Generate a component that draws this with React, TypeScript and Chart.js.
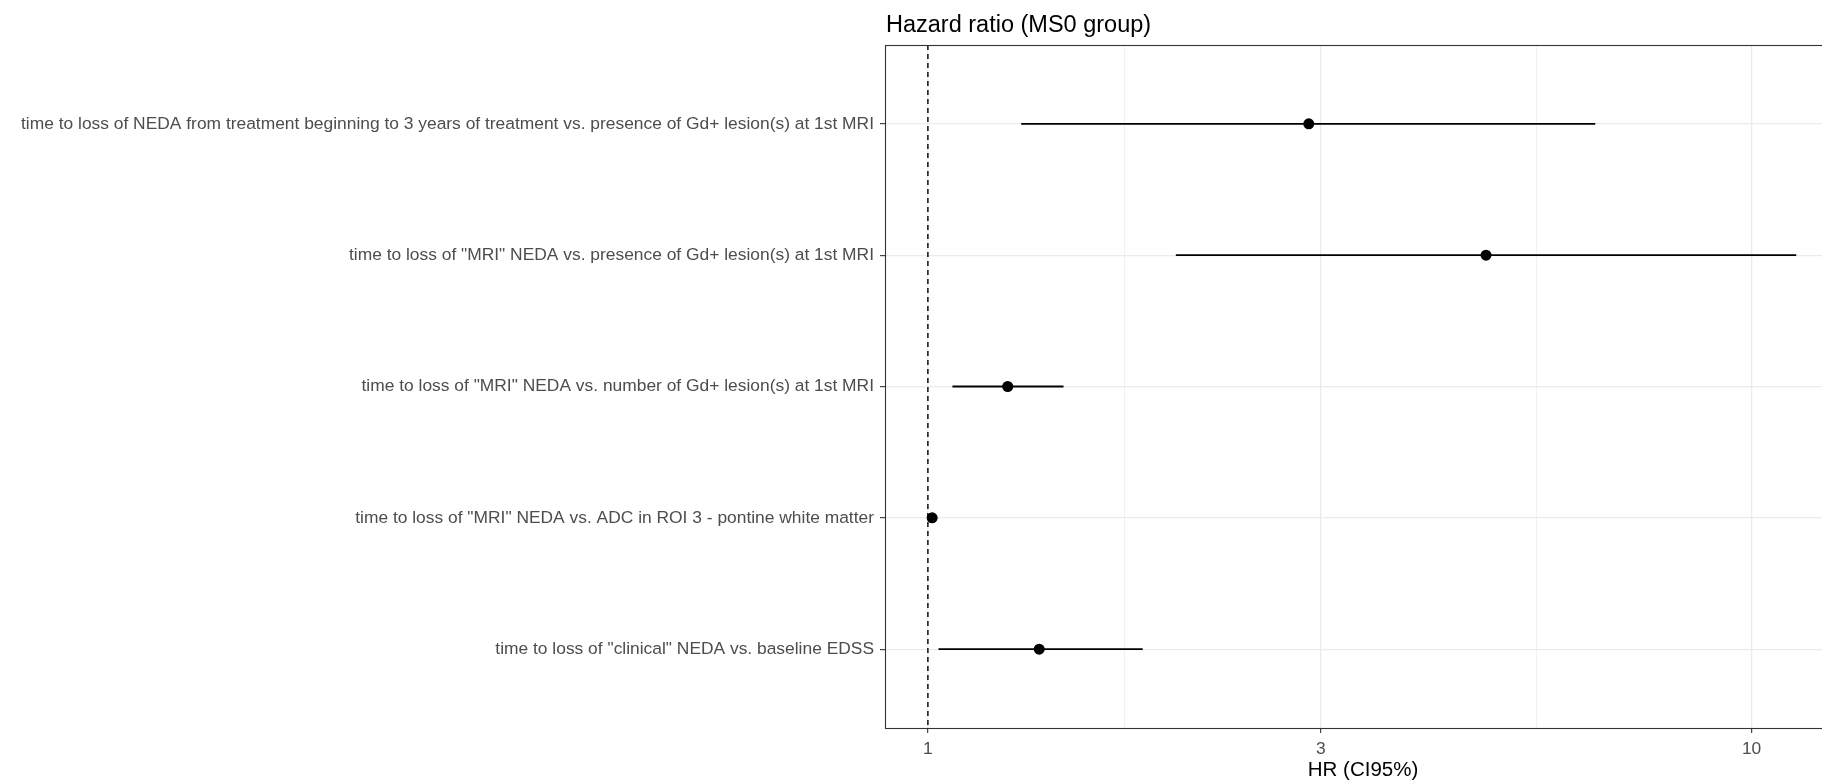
import React, { useEffect, useRef } from 'react';
import { Chart, registerables } from 'chart.js';

Chart.register(...registerables);

// ---- Data (top row first) ----
const categories: string[] = [
  'time to loss of NEDA from treatment beginning to 3 years of treatment vs. presence of Gd+ lesion(s) at 1st MRI',
  'time to loss of "MRI" NEDA vs. presence of Gd+ lesion(s) at 1st MRI',
  'time to loss of "MRI" NEDA vs. number of Gd+ lesion(s) at 1st MRI',
  'time to loss of "MRI" NEDA vs. ADC in ROI 3 - pontine white matter',
  'time to loss of "clinical" NEDA vs. baseline EDSS',
];
const hazardRatio: number[] = [2.9, 4.76, 1.25, 1.012, 1.365];
const ciLower: number[] = [1.298, 2.0, 1.071, 1.002, 1.03];
const ciUpper: number[] = [6.46, 11.33, 1.461, 1.022, 1.823];

const majorTicks: number[] = [1, 3, 10];
const minorTicks: number[] = [1.732, 5.477];
const referenceHR = 1;

const xRange = { min: 0.887, max: 12.84 };
const yRange = { min: 0.4, max: 5.6 };

const chartTitle = 'Hazard ratio (MS0 group)';
const xAxisTitle = 'HR (CI95%)';

const FONT = '"Liberation Sans", Arial, Helvetica, sans-serif';

export default function App() {
  const canvasRef = useRef<HTMLCanvasElement | null>(null);

  useEffect(() => {
    document.body.style.margin = '0';
    document.body.style.overflow = 'hidden';
    const canvas = canvasRef.current;
    if (!canvas) return;

    Chart.defaults.font.family = FONT;

    const panelPlugin = {
      id: 'panelDecor',
      afterDraw(chart: any) {
        const { ctx, chartArea } = chart;
        ctx.save();
        ctx.strokeStyle = '#333333';
        ctx.lineWidth = 1.1;
        ctx.strokeRect(chartArea.left + 0.5, chartArea.top + 0.5, chartArea.right - chartArea.left - 1, chartArea.bottom - chartArea.top);
        ctx.fillStyle = '#000000';
        ctx.font = `23.5px ${FONT}`;
        ctx.textAlign = 'left';
        ctx.textBaseline = 'alphabetic';
        ctx.fillText(chartTitle, chartArea.left + 1, 32);
        ctx.restore();
      },
    };

    const errorBarSets = categories.map((_, i) => ({
      type: 'line' as const,
      data: [
        { x: ciLower[i], y: i + 1 },
        { x: ciUpper[i], y: i + 1 },
      ],
      borderColor: '#000000',
      borderWidth: 1.8,
      pointRadius: 0,
      showLine: true,
      order: 2,
    }));

    const chart = new Chart(canvas, {
      type: 'scatter',
      data: {
        datasets: [
          {
            data: categories.map((_, i) => ({ x: hazardRatio[i], y: i + 1 })),
            backgroundColor: '#000000',
            borderColor: '#000000',
            pointRadius: 5.5,
            pointBorderWidth: 0,
            order: 1,
          } as any,
          ...errorBarSets,
          {
            type: 'line',
            data: [
              { x: referenceHR, y: yRange.min },
              { x: referenceHR, y: yRange.max },
            ],
            borderColor: '#000000',
            borderWidth: 1.4,
            borderDash: [5, 4],
            pointRadius: 0,
            showLine: true,
            order: 3,
          } as any,
        ],
      },
      options: {
        animation: false,
        responsive: false,
        devicePixelRatio: 1,
        layout: { autoPadding: false, padding: { top: 45, left: 0, right: 0, bottom: 0 } },
        plugins: {
          legend: { display: false },
          tooltip: { enabled: false },
          title: { display: false },
        },
        scales: {
          x: {
            type: 'logarithmic',
            min: xRange.min,
            max: xRange.max,
            afterBuildTicks: (scale: any) => {
              scale.ticks = [...majorTicks, ...minorTicks]
                .sort((a, b) => a - b)
                .map((v) => ({ value: v, major: majorTicks.includes(v) }));
            },
            afterFit: (scale: any) => {
              scale.height = 53;
              scale.paddingLeft = 0;
              scale.paddingRight = 0;
            },
            ticks: {
              autoSkip: false,
              maxRotation: 0,
              color: '#4d4d4d',
              font: { size: 17.4 },
              padding: 6,
              callback: (v: any) => (majorTicks.includes(Number(v)) ? String(v) : ''),
            },
            grid: {
              color: '#ebebeb',
              lineWidth: (ctx: any) => (majorTicks.includes(ctx.tick?.value) ? 1.3 : 0.7),
              tickColor: (ctx: any) => (majorTicks.includes(ctx.tick?.value) ? '#333333' : 'rgba(0,0,0,0)'),
              tickLength: 5,
              tickWidth: 1.1,
            },
            border: { display: false },
            title: {
              display: true,
              text: xAxisTitle,
              color: '#000000',
              font: { size: 20.5, lineHeight: 1.0 },
              padding: { top: 0, bottom: 0 },
            },
          },
          y: {
            type: 'linear',
            reverse: true,
            min: yRange.min,
            max: yRange.max,
            afterBuildTicks: (scale: any) => {
              scale.ticks = categories.map((_, i) => ({ value: i + 1 }));
            },
            afterFit: (scale: any) => {
              scale.width = 885;
            },
            ticks: {
              autoSkip: false,
              color: '#4d4d4d',
              font: { size: 17.4 },
              padding: 6,
              callback: (v: any) => categories[Number(v) - 1] ?? '',
            },
            grid: {
              color: '#ebebeb',
              lineWidth: 1.3,
              tickColor: '#333333',
              tickLength: 5,
              tickWidth: 1.1,
            },
            border: { display: false },
          },
        },
      },
      plugins: [panelPlugin],
    } as any);

    return () => {
      chart.destroy();
    };
  }, []);

  return (
    <div style={{ position: 'relative', width: '1822px', height: '781px', overflow: 'hidden', background: '#ffffff' }}>
      <canvas ref={canvasRef} width={1841} height={781} style={{ display: 'block', width: '1841px', height: '781px' }} />
    </div>
  );
}
